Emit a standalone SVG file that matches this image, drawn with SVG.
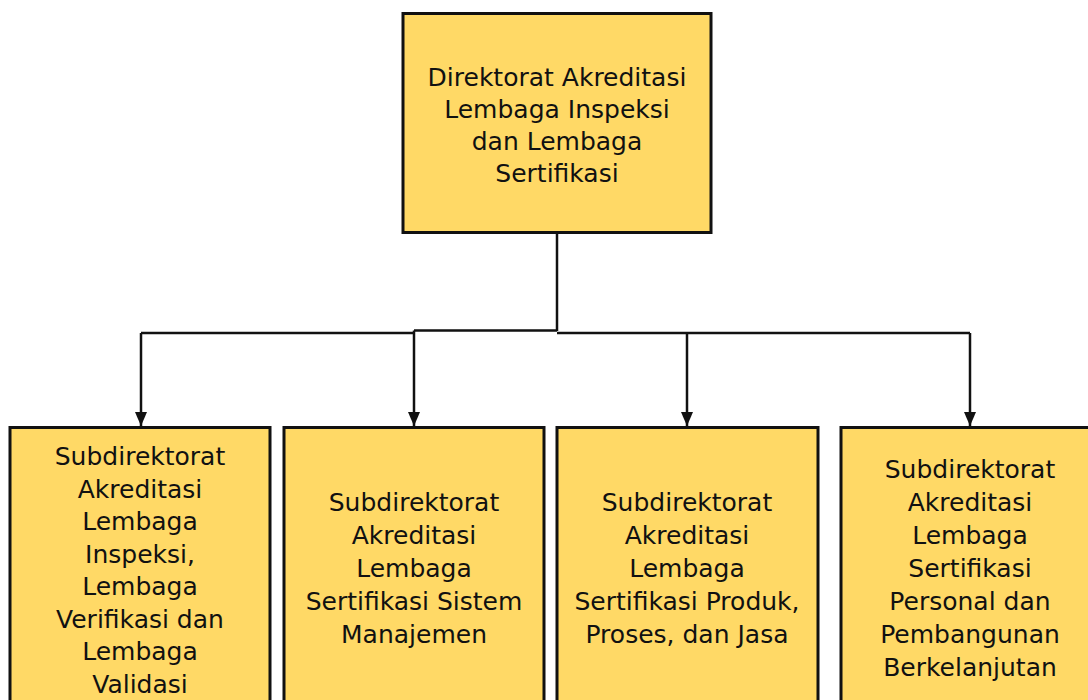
<svg xmlns="http://www.w3.org/2000/svg" width="1088" height="700" viewBox="0 0 1088 700">
<style>
.box{fill:#FFD966;stroke:#111;stroke-width:3}
.t{font-family:"DejaVu Sans",sans-serif;font-size:25px;fill:#111;text-anchor:middle}
.ln{fill:none;stroke:#111;stroke-width:2.5}
</style>
<defs>
<marker id="ah" viewBox="0 0 14 12" refX="14" refY="6" markerWidth="14" markerHeight="12" markerUnits="userSpaceOnUse" orient="auto">
<path d="M0,0 L14,6 L0,12 Z" fill="#111"/>
</marker>
</defs>
<rect width="1088" height="700" fill="#fff"/>
<g id="connectors">
<path class="ln" d="M557,233 V331" stroke-width="3"/>
<path class="ln" d="M141,333 H414 M414,330.5 H557 M557,333 H970" stroke-width="3"/>
<path class="ln" d="M141,333 V426" marker-end="url(#ah)"/>
<path class="ln" d="M414,330.5 V426" marker-end="url(#ah)"/>
<path class="ln" d="M687,333 V426" marker-end="url(#ah)"/>
<path class="ln" d="M970,333 V426" marker-end="url(#ah)"/>
</g>
<g id="n0">
<rect class="box" x="403" y="13.5" width="308" height="219"/>
<text class="t" x="557" y="86">Direktorat Akreditasi</text>
<text class="t" x="557" y="118">Lembaga Inspeksi</text>
<text class="t" x="557" y="150">dan Lembaga</text>
<text class="t" x="557" y="182">Sertifikasi</text>
</g>
<g id="n1">
<rect class="box" x="10" y="427.5" width="260" height="290"/>
<text class="t" x="140" y="465">Subdirektorat</text>
<text class="t" x="140" y="497.5">Akreditasi</text>
<text class="t" x="140" y="530">Lembaga</text>
<text class="t" x="140" y="562.5">Inspeksi,</text>
<text class="t" x="140" y="595">Lembaga</text>
<text class="t" x="140" y="627.5">Verifikasi dan</text>
<text class="t" x="140" y="660">Lembaga</text>
<text class="t" x="140" y="692.5">Validasi</text>
</g>
<g id="n2">
<rect class="box" x="284" y="427.5" width="260" height="290"/>
<text class="t" x="414" y="511">Subdirektorat</text>
<text class="t" x="414" y="544">Akreditasi</text>
<text class="t" x="414" y="577">Lembaga</text>
<text class="t" x="414" y="610">Sertifikasi Sistem</text>
<text class="t" x="414" y="643">Manajemen</text>
</g>
<g id="n3">
<rect class="box" x="557" y="427.5" width="261" height="290"/>
<text class="t" x="687" y="511">Subdirektorat</text>
<text class="t" x="687" y="544">Akreditasi</text>
<text class="t" x="687" y="577">Lembaga</text>
<text class="t" x="687" y="610">Sertifikasi Produk,</text>
<text class="t" x="687" y="643">Proses, dan Jasa</text>
</g>
<g id="n4">
<rect class="box" x="841" y="427.5" width="260" height="290"/>
<text class="t" x="970" y="478">Subdirektorat</text>
<text class="t" x="970" y="511">Akreditasi</text>
<text class="t" x="970" y="544">Lembaga</text>
<text class="t" x="970" y="577">Sertifikasi</text>
<text class="t" x="970" y="610">Personal dan</text>
<text class="t" x="970" y="643">Pembangunan</text>
<text class="t" x="970" y="676">Berkelanjutan</text>
</g>
</svg>
